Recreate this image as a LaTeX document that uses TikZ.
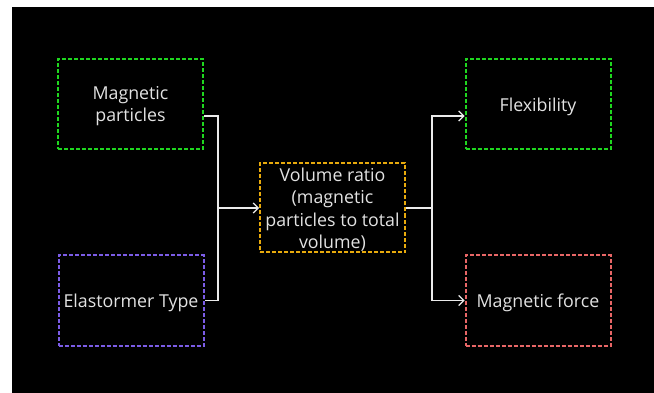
\documentclass[tikz,border=0pt]{standalone}
\usepackage{fontspec}
\setmainfont{Open Sans}
\usetikzlibrary{arrows.meta}
\definecolor{boxgreen}{HTML}{1FD61F}
\definecolor{boxpurple}{HTML}{7B5CE6}
\definecolor{boxgold}{HTML}{E8AA0C}
\definecolor{boxred}{HTML}{E86666}
\definecolor{textgray}{HTML}{E2E2E2}
\begin{document}
\begin{tikzpicture}[x=1pt, y=-1pt, >={Straight Barb[length=5pt,width=10pt,line width=1.2pt]},
    card/.style={draw, dash pattern=on 4pt off 2pt, line width=2pt,
      minimum width=145pt, minimum height=90pt, text=textgray, align=center,
      font=\fontsize{17.8}{22.5}\selectfont, inner sep=1pt, text depth=0pt},
    wire/.style={draw=white!92!black, line width=1.4pt}]
    % frame
    \fill[white] (0,0) rectangle (654,393);
    \fill[black] (12,7) rectangle (654,393);

    \node[card, draw=boxgreen] (mp) at (130.5,104) {Magnetic\\particles};
    \node[card, draw=boxpurple] (et) at (131,300.5) {Elastormer Type};
    \node[card, draw=boxgold, minimum height=89pt] (vr) at (332.5,208)
        {Volume ratio\\(magnetic\\particles to total\\volume)};
    \node[card, draw=boxgreen] (fx) at (538,104.5) {Flexibility};
    \node[card, draw=boxred] (mf) at (538,300.5) {Magnetic force};

    \coordinate (jl) at (218,208);
    \coordinate (jr) at (432,208);

    \draw[wire] ([yshift=-12pt]mp.east) -| (jl) |- (et.east);
    \draw[wire, ->] (jl) -- (vr.west);
    \draw[wire] (vr.east) -- (jr);
    \draw[wire, ->] (jr) |- ([yshift=-11.5pt]fx.west);
    \draw[wire, ->] (jr) |- (mf.west);
\end{tikzpicture}
\end{document}
